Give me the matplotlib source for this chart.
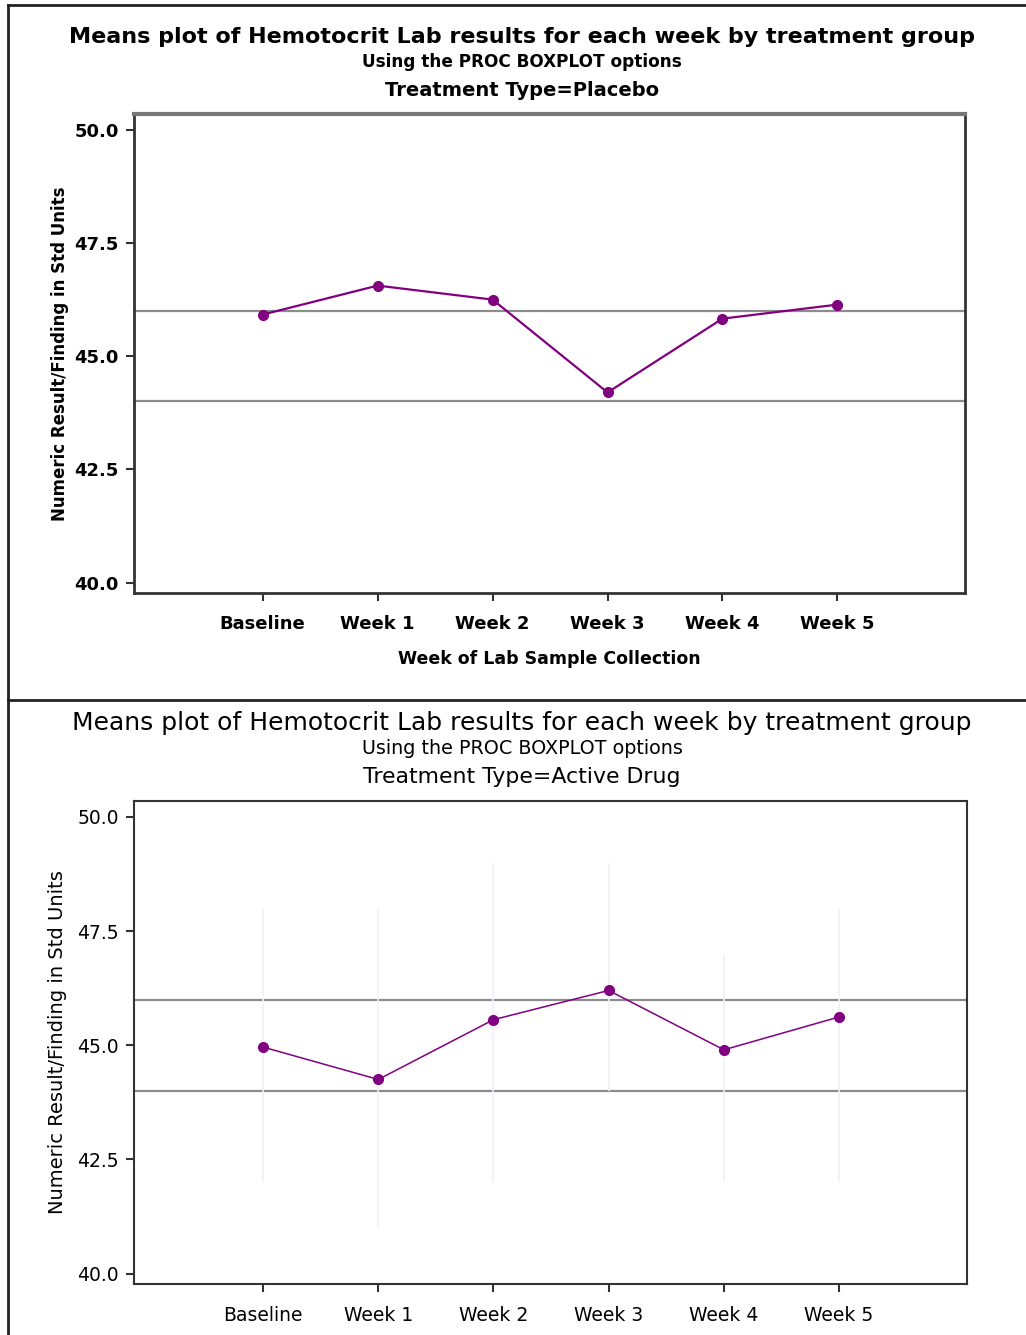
import matplotlib
matplotlib.use("Agg")
import matplotlib.pyplot as plt
from matplotlib.lines import Line2D

# Week labels and group means
weeks = ["Baseline", "Week 1", "Week 2", "Week 3", "Week 4", "Week 5"]
placebo_means = [45.92, 46.56, 46.25, 44.20, 45.83, 46.14]
active_means = [44.96, 44.25, 45.56, 46.20, 44.90, 45.62]

# Range whiskers for the active drug group
active_low = [42.0, 41.0, 42.0, 44.0, 42.0, 42.0]
active_high = [48.0, 48.0, 49.0, 49.0, 47.0, 48.0]

# Reference lines
ref_levels = [44.0, 46.0]

y_ticks = [40.0, 42.5, 45.0, 47.5, 50.0]
title = "Means plot of Hemotocrit Lab results for each week by treatment group"
subtitle = "Using the PROC BOXPLOT options"
groups = ["Treatment Type=Placebo", "Treatment Type=Active Drug"]

W, H = 1026, 1335
fig = plt.figure(figsize=(W / 100, H / 100), dpi=100)


def px_axes(left, top, right, bottom):
    return fig.add_axes([left / W, 1 - bottom / H, (right - left) / W, (bottom - top) / H])


def style_axes(ax, bold, edge_lw, tick_size):
    ax.set_xlim(-1.12, 6.11)
    ax.set_ylim(39.77, 50.35)
    ax.set_xticks(range(len(weeks)))
    ax.set_xticklabels(weeks)
    ax.set_yticks(y_ticks)
    ax.set_yticklabels([f"{v:.1f}" for v in y_ticks])
    w = "bold" if bold else "normal"
    for lab in ax.get_xticklabels() + ax.get_yticklabels():
        lab.set_fontsize(tick_size)
        lab.set_fontweight(w)
    ax.tick_params(axis="both", direction="out", length=6, width=1.5, colors="#333333",
                   labelcolor="black")
    ax.tick_params(axis="x", pad=10)
    ax.tick_params(axis="y", pad=5)
    for s in ax.spines.values():
        s.set_linewidth(edge_lw)
        s.set_color("#333333")
    for lv in ref_levels:
        ax.axhline(lv, color="#8c8c8c", lw=1.6, zorder=1)


# ---- Placebo panel ----
ax1 = px_axes(134, 114, 965, 593)
style_axes(ax1, True, 2.0, 13)
ax1.spines["top"].set_color("#777777")
ax1.spines["top"].set_linewidth(3)
ax1.plot(range(len(weeks)), placebo_means, color="#800080", lw=1.6, marker="o",
         ms=7, mfc="#800080", mec="#800080", zorder=3)
ax1.set_xlabel("Week of Lab Sample Collection", fontsize=12.5, fontweight="bold", labelpad=12)
ax1.set_ylabel("Numeric Result/Finding in Std Units", fontsize=12, fontweight="bold", labelpad=4)

fig.text(522 / W, 1 - 37 / H, title, ha="center", va="center", fontsize=16, fontweight="bold")
fig.text(522 / W, 1 - 62 / H, subtitle, ha="center", va="center", fontsize=12.2, fontweight="bold")
fig.text(522 / W, 1 - 90 / H, groups[0], ha="center", va="center", fontsize=14, fontweight="bold")

# ---- Active drug panel ----
ax2 = px_axes(134, 801, 967, 1284)
style_axes(ax2, False, 1.5, 13.5)
ax2.vlines(range(len(weeks)), active_low, active_high, color="#edf1f6", lw=1.2, zorder=2)
ax2.plot(range(len(weeks)), active_means, color="#800080", lw=1.1, marker="o",
         ms=7, mfc="#800080", mec="#800080", zorder=3)
ax2.set_ylabel("Numeric Result/Finding in Std Units", fontsize=14, labelpad=7)

fig.text(522 / W, 1 - 723 / H, title, ha="center", va="center", fontsize=18)
fig.text(522 / W, 1 - 748 / H, subtitle, ha="center", va="center", fontsize=13.8)
fig.text(522 / W, 1 - 777 / H, groups[1], ha="center", va="center", fontsize=15.8)

# ---- Page frame lines ----
frame = dict(color="#222222", lw=2, transform=fig.transFigure)
fig.add_artist(Line2D([8 / W, 1], [1 - 5 / H, 1 - 5 / H], **frame))
fig.add_artist(Line2D([8 / W, 1], [1 - 700 / H, 1 - 700 / H], **frame))
fig.add_artist(Line2D([8 / W, 8 / W], [0, 1 - 5 / H], **frame))

fig.savefig("out.png", dpi=100, facecolor="white")
